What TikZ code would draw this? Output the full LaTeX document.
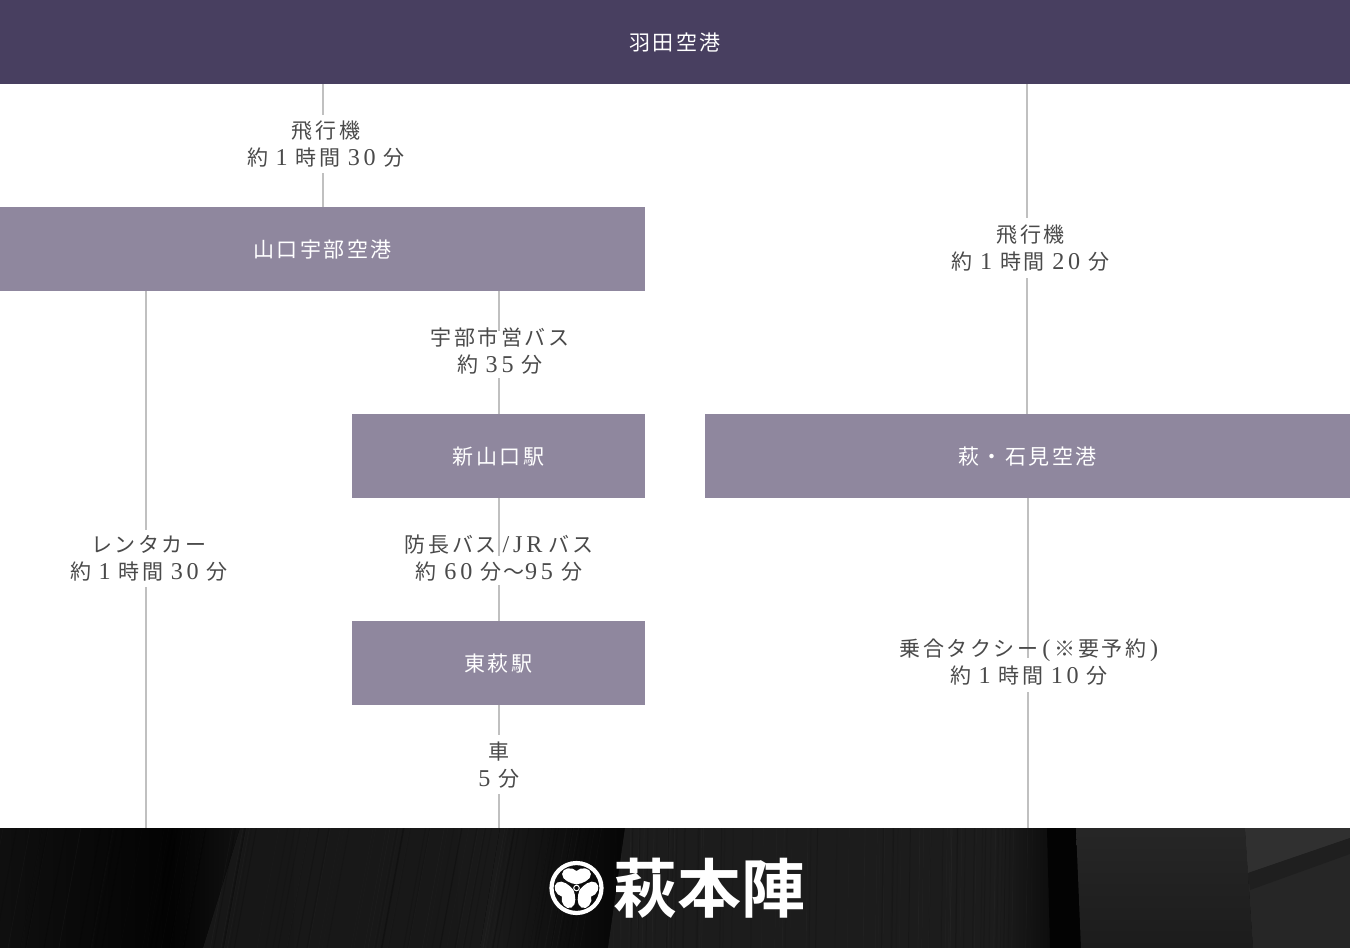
\documentclass[tikz,border=0pt]{standalone}
\usepackage{fontspec}
\setmainfont{Noto Sans CJK JP}[LetterSpace=12]
\newfontfamily\latf{Liberation Serif}[LetterSpace=16,Scale=1.15]
\newfontfamily\logof{Noto Sans CJK JP}[Scale=1,BoldFont={* Bold}]
\newcommand\dg[1]{\hspace{7.5pt}{\latf #1}\hspace{8pt}}
\definecolor{hdr}{HTML}{483F60}
\definecolor{midbox}{HTML}{8F879E}
\definecolor{wire}{HTML}{C0C0C0}
\definecolor{ink}{HTML}{4A4A4A}
\tikzset{
  boxcell/.style={fill=midbox,text=white,inner sep=0pt,text height=17pt,text depth=0pt,font=\fontsize{21}{27}\selectfont},
  hdrcell/.style={boxcell,fill=hdr,text height=16pt},
  routelabel/.style={text=ink,inner sep=0pt,align=center,font=\fontsize{21}{27}\selectfont},
  wireline/.style={draw=wire,line width=1.1pt},
  leaf/.pic={\fill[white] (0,3.6) .. controls (-6,4.5) and (-14.6,8) .. (-14.4,14) .. controls (-14.2,20.5) and (-4.2,21.5) .. (0,17) .. controls (4.2,21.5) and (14.2,20.5) .. (14.4,14) .. controls (14.6,8) and (6,4.5) .. (0,3.6) -- cycle;}
}
\begin{document}
\begin{tikzpicture}[x=1pt,y=-1pt]
\useasboundingbox (0,0) rectangle (1350,948);
\fill[white] (0,0) rectangle (1350,948);

% footer: brushed dark panel
\begin{scope}
\clip (0,828) rectangle (1350,948);
\fill[black!90!white] (0,828) rectangle (1350,948);
\fill[left color=black!94!white,right color=black!99!white] (0,828) rectangle (175,948);
\fill[left color=black!99!white,right color=black!93!white] (170,828) rectangle (245,948);
\fill[left color=black!91!white,right color=black!89!white] (240,828) -- (1040,828) -- (1040,948) -- (203,948) -- cycle;
\fill[left color=black!89!white,right color=black!98!white] (500,828) -- (625,828) -- (608,948) -- (480,948) -- cycle;
\fill[black!89!white] (625,828) -- (1000,828) -- (1000,948) -- (608,948) -- cycle;
\fill[left color=black!89!white,right color=black!95!white] (1000,828) rectangle (1052,948);
\fill[black!99!white] (1047,828) -- (1076,828) -- (1081,948) -- (1050,948) -- cycle;
\fill[top color=black!85!white,bottom color=black!89!white] (1076,828) -- (1245,828) -- (1253,948) -- (1081,948) -- cycle;
\fill[black!85!white] (1245,828) -- (1350,828) -- (1350,948) -- (1253,948) -- cycle;
\fill[black!81!white] (1245,828) -- (1350,828) -- (1350,838) -- (1248,873) -- cycle;
\fill[black!88!white] (1248,873) -- (1350,838) -- (1350,854) -- (1250,890) -- cycle;
\pgfmathsetseed{4217}
\foreach \i in {1,...,90}{
  \pgfmathsetmacro{\xa}{rnd*1040}
  \pgfmathsetmacro{\sl}{\xa<610 ? 22 : 2}
  \pgfmathsetmacro{\op}{0.008+rnd*0.016}
  \draw[white,opacity=\op,line width=0.8pt] (\xa,828) -- (\xa-\sl,948);
}
\foreach \i in {1,...,90}{
  \pgfmathsetmacro{\xa}{rnd*1040}
  \pgfmathsetmacro{\sl}{\xa<610 ? 22 : 2}
  \pgfmathsetmacro{\op}{0.05+rnd*0.12}
  \draw[black,opacity=\op,line width=1pt] (\xa,828) -- (\xa-\sl,948);
}
\end{scope}

% blocks
\node[hdrcell,minimum width=1350pt,minimum height=84pt] (haneda) at (675,42) {羽田空港};
\node[boxcell,minimum width=645pt,minimum height=84pt] (ube) at (322.5,249) {山口宇部空港};
\node[boxcell,minimum width=293pt,minimum height=84pt] (shin) at (498.5,456) {新山口駅};
\node[boxcell,minimum width=293pt,minimum height=84pt] (higashi) at (498.5,663) {東萩駅};
\node[boxcell,minimum width=645pt,minimum height=84pt] (iwami) at (1027.5,456) {萩・石見空港};
\coordinate (footerline) at (675,828);

% connector breaks
\coordinate (a1) at (323,115);   \coordinate (a2) at (323,173);
\coordinate (b1) at (1027,218);  \coordinate (b2) at (1027,278);
\coordinate (c1) at (146,530);   \coordinate (c2) at (146,587);
\coordinate (d1) at (499,331);   \coordinate (d2) at (499,378);
\coordinate (e1) at (499,556);   \coordinate (e2) at (499,585);
\coordinate (f1) at (499,735);   \coordinate (f2) at (499,794);
\coordinate (g1) at (1028,658);  \coordinate (g2) at (1028,692);

\draw[wireline] (haneda.south -| a1) -- (a1);
\draw[wireline] (a2) -- (ube.north -| a2);
\draw[wireline] (haneda.south -| b1) -- (b1);
\draw[wireline] (b2) -- (iwami.north -| b2);
\draw[wireline] (ube.south -| c1) -- (c1);
\draw[wireline] (c2) -- (footerline -| c2);
\draw[wireline] (ube.south -| d1) -- (d1);
\draw[wireline] (d2) -- (shin.north -| d2);
\draw[wireline] (shin.south -| e1) -- (e1);
\draw[wireline] (e2) -- (higashi.north -| e2);
\draw[wireline] (higashi.south -| f1) -- (f1);
\draw[wireline] (f2) -- (footerline -| f2);
\draw[wireline] (iwami.south -| g1) -- (g1);
\draw[wireline] (g2) -- (footerline -| g2);

% labels
\node[routelabel] (l1) at (326,144.5) {飛行機\\約\dg{1}時間\dg{30}分};
\node[routelabel] (l2) at (1030.5,248) {飛行機\\約\dg{1}時間\dg{20}分};
\node[routelabel] (l3) at (149,558) {レンタカー\\約\dg{1}時間\dg{30}分};
\node[routelabel] (l4) at (500,351.5) {宇部市営バス\\約\dg{35}分};
\node[routelabel] (l5) at (499,558) {防長バス\hspace{6pt}{\latf/JR}\hspace{6pt}バス\\約\dg{60}分〜{\latf 95}\hspace{8pt}分};
\node[routelabel] (l6) at (499,765) {車\\{\latf 5}\hspace{8pt}分};
\node[routelabel] (l7) at (1029,662) {乗合タクシー{\latf\hspace{4pt}(\hspace{4pt}}※要予約{\latf\hspace{4pt})}\\約\dg{1}時間\dg{10}分};

% crest
\begin{scope}[shift={(576.5,888)}]
\draw[white,line width=4.2pt] (0,0) circle[radius=25];
\path (0,0) pic[rotate=180] {leaf};
\path (0,0) pic[rotate=300] {leaf};
\path (0,0) pic[rotate=60] {leaf};
\draw[white,line width=1pt] (0,0) circle[radius=2.8];
\end{scope}
\node[text=white,inner sep=0pt,font={\logof\bfseries\fontsize{64}{64}\selectfont}] (logo) at (709,888) {萩本陣};
\end{tikzpicture}
\end{document}
